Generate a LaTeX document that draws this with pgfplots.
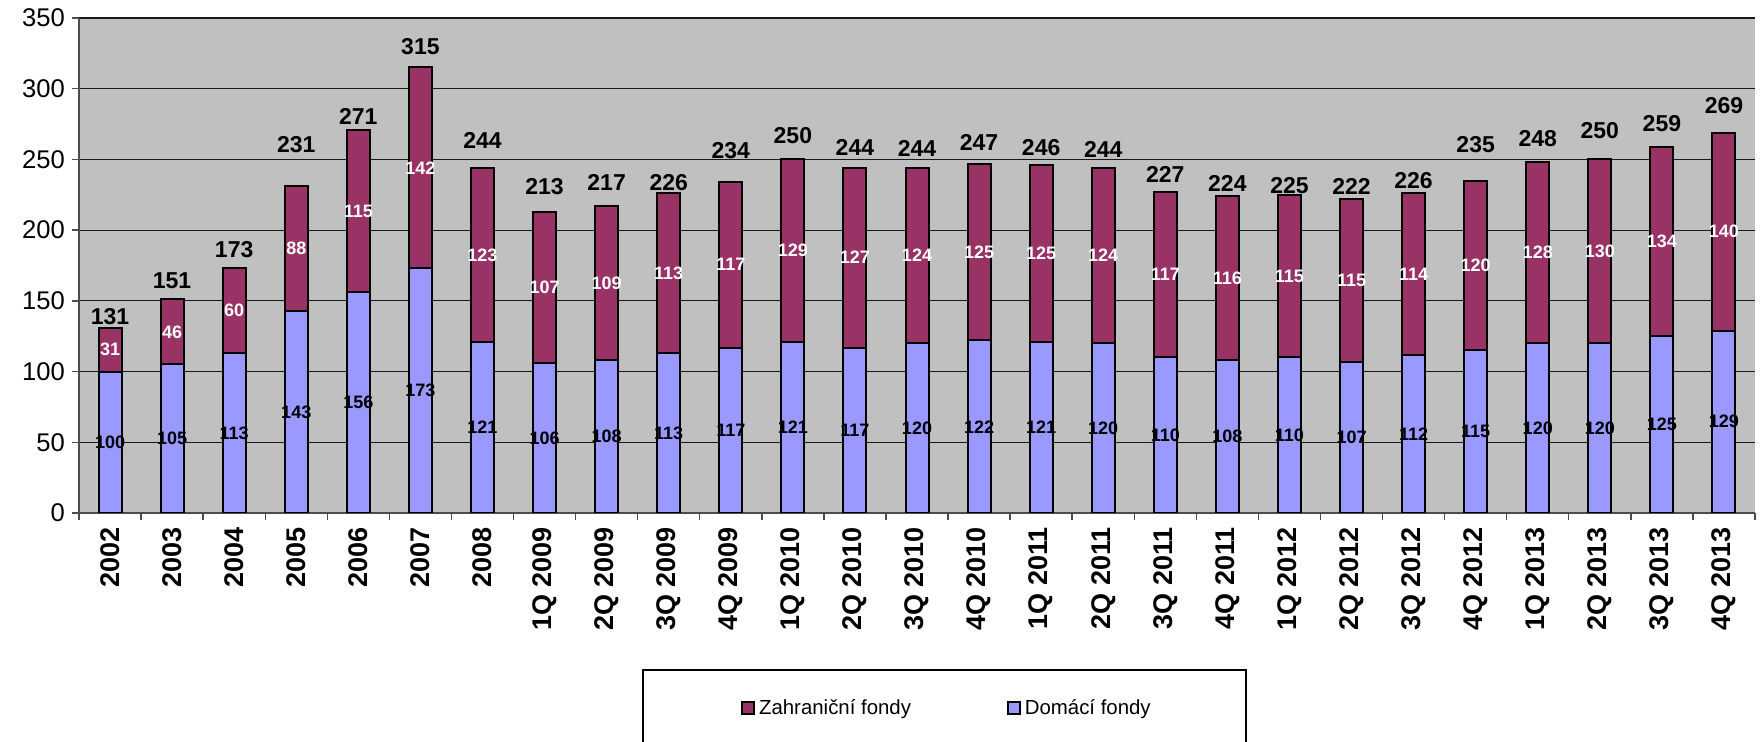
\documentclass[border=0pt]{standalone}
\usepackage{pgfplots}
\pgfplotsset{compat=1.18}
\usepackage{pgfplotstable}
\usepackage{fontspec}
\setmainfont{Liberation Sans}
\definecolor{dom}{RGB}{153,153,255}
\definecolor{zah}{RGB}{153,51,102}
\definecolor{plotbg}{RGB}{192,192,192}

\pgfplotstableread{
x dom zah tot ly
0 100 31 131 133.6
1 105 46 151 159
2 113 60 173 181
3 143 88 231 254.6
4 156 115 271 275
5 173 142 315 324
6 121 123 244 258
7 106 107 213 225
8 108 109 217 228
9 113 113 226 227.7
10 117 117 234 250.3
11 121 129 250 261
12 117 127 244 253
13 120 124 244 252.4
14 122 125 247 256.2
15 121 125 246 253
16 120 124 244 251.2
17 110 117 227 233.6
18 108 116 224 227.2
19 110 115 225 226
20 107 115 222 224.9
21 112 114 226 229.6
22 115 120 235 254.8
23 120 128 248 259
24 120 130 250 265
25 125 134 259 269.6
26 129 140 269 282.6
}\datatable

\begin{document}
\begin{tikzpicture}
\pgfplotsset{
  common/.style={
    scale only axis, width=838pt, height=247.5pt,
    xmin=-0.5, xmax=26.5, ymin=0, ymax=350,
    at={(0pt,0pt)}, anchor=south west,
    /pgf/number format/assume math mode=true,
  }
}
\path[use as bounding box] (-39.5pt,-114.5pt) rectangle (840.5pt,256.5pt);
\begin{axis}[common,
  ybar stacked, bar width=11.5pt,
  axis background/.style={fill=plotbg},
  axis x line*=bottom, axis y line*=left,
  axis line style={black!70, line width=0.7pt},
  ytick={0,50,...,350},
  ymajorgrids, grid style={black!90, line width=0.6pt},
  tick align=outside, major tick length=3.5pt, minor tick length=3.5pt,
  ytick style={black!70, line width=0.7pt},
  yticklabel style={font=\fontsize{12.8}{13}\selectfont},
  xtick={0,...,26},
  xticklabels={2002,2003,2004,2005,2006,2007,2008,{1Q 2009},{2Q 2009},{3Q 2009},{4Q 2009},{1Q 2010},{2Q 2010},{3Q 2010},{4Q 2010},{1Q 2011},{2Q 2011},{3Q 2011},{4Q 2011},{1Q 2012},{2Q 2012},{3Q 2012},{4Q 2012},{1Q 2013},{2Q 2013},{3Q 2013},{4Q 2013}},
  major x tick style={draw=none},
  minor xtick={-0.5,0.5,...,26.5},
  minor x tick style={black!70, line width=0.7pt},
  xticklabel style={rotate=90, anchor=east, font=\bfseries\fontsize{13.5}{14}\selectfont},
  legend columns=2, reverse legend,
  legend style={draw=none, fill=none, at={(0.5185,-0.394)}, anchor=center,
    font=\fontsize{10.2}{12}\selectfont,
    /tikz/every even column/.append style={column sep=46pt}},
  legend image code/.code={\draw[#1, line width=0.9pt] (0pt,-3pt) rectangle (6pt,3pt);},
]
\addplot[fill=dom, draw=black, line width=1pt] table[x=x, y=dom]{\datatable};
\addlegendentry{Domácí fondy}
\addplot[fill=zah, draw=black, line width=1pt] table[x=x, y=zah]{\datatable};
\addlegendentry{Zahraniční fondy}
\end{axis}
\begin{axis}[common, hide axis, clip=false]
\addplot[draw=none, mark=none, nodes near coords, point meta=explicit,
  every node near coord/.append style={anchor=center, font=\bfseries\fontsize{9}{10}\selectfont, text=black}]
  table[x=x, y expr=\thisrow{dom}/2, meta=dom]{\datatable};
\addplot[draw=none, mark=none, nodes near coords, point meta=explicit,
  every node near coord/.append style={anchor=center, font=\bfseries\fontsize{9}{10}\selectfont, text=white}]
  table[x=x, y expr=\thisrow{dom}+\thisrow{zah}/2, meta=zah]{\datatable};
\addplot[draw=none, mark=none, nodes near coords, point meta=explicit,
  every node near coord/.append style={anchor=base, font=\bfseries\fontsize{11.5}{12}\selectfont, text=black}]
  table[x=x, y=ly, meta=tot]{\datatable};
\end{axis}
\draw[black, line width=0.6pt] (282pt,-78.5pt) rectangle (583.5pt,-140pt);
\end{tikzpicture}
\end{document}
